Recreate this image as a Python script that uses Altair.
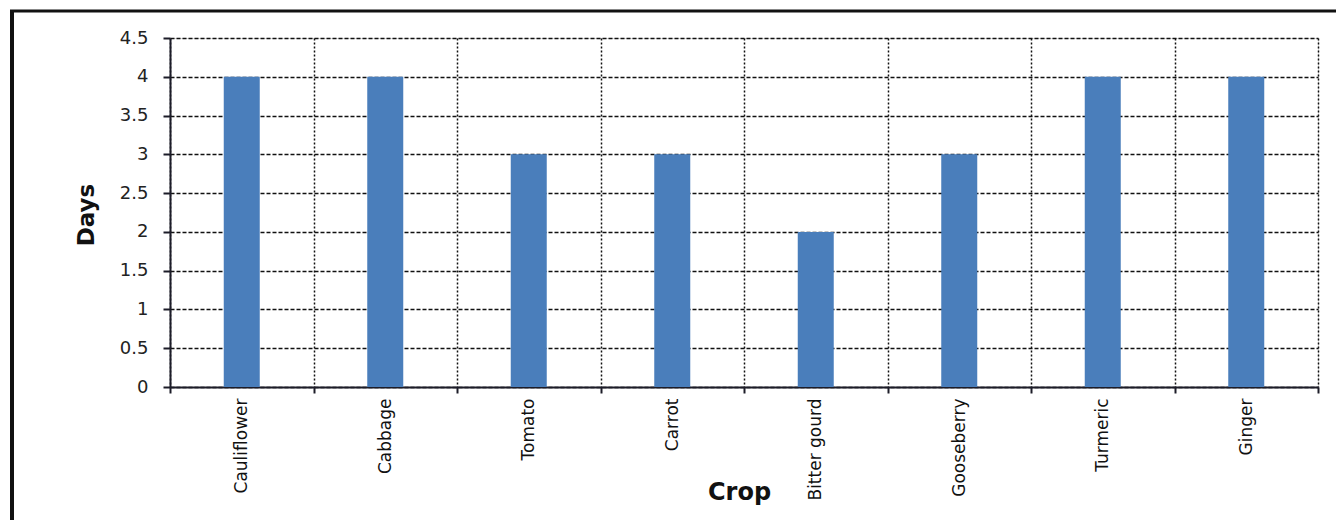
import altair as alt
import pandas as pd

crops = ["Cauliflower", "Cabbage", "Tomato", "Carrot", "Bitter gourd", "Gooseberry", "Turmeric", "Ginger"]
days = [4, 4, 3, 3, 2, 3, 4, 4]
y_ticks = [0, 0.5, 1, 1.5, 2, 2.5, 3, 3.5, 4, 4.5]

df = pd.DataFrame({"Crop": crops, "Days": days})

W, H = 1148, 349
LEFT, TOP = 170, 38
INK = "#1c1c28"

bars = alt.Chart(df).mark_bar(color="#4A7EBB", width=36).encode(
    x=alt.X("Crop:N", sort=crops, title="Crop",
            scale=alt.Scale(paddingInner=0, paddingOuter=0),
            axis=alt.Axis(labelAngle=-90, labelFontSize=17, labelFont="DejaVu Sans",
                          labelColor="#111", tickBand="extent", grid=True,
                          gridDash=[2, 2], gridColor="#111", gridWidth=1.5,
                          domainColor=INK, domainWidth=2, tickColor=INK, tickSize=6, tickWidth=2,
                          labelPadding=5,
                          titleFontSize=24, titleFont="DejaVu Sans", titleFontWeight="bold",
                          titleColor="#111", titleX=569, titleY=112, titleAlign="center",
                          titleBaseline="alphabetic")),
    y=alt.Y("Days:Q", title="Days", scale=alt.Scale(domain=[0, 4.5], nice=False),
            axis=alt.Axis(values=y_ticks, format="~g", labelFontSize=18, labelFont="DejaVu Sans",
                          labelColor="#222", labelPadding=15, grid=True,
                          gridDash=[4, 2], gridColor="#111", gridWidth=1.5,
                          domainColor=INK, domainWidth=2, tickColor=INK, tickSize=7, tickWidth=2,
                          titleFontSize=23, titleFont="DejaVu Sans", titleFontWeight="bold",
                          titleColor="#111", titleX=-84, titleY=H / 2 + 2,
                          titleBaseline="middle", titleAlign="center")),
)

frame_data = alt.Data(values=[{}])
left_line = alt.Chart(frame_data).mark_rule(color="#111", strokeWidth=4).encode(
    x=alt.value(12 - LEFT), y=alt.value(10 - TOP), y2=alt.value(520 - TOP))
top_line = alt.Chart(frame_data).mark_rule(color="#111", strokeWidth=3).encode(
    y=alt.value(11 - TOP), x=alt.value(10 - LEFT), x2=alt.value(1336 - LEFT))

chart = alt.layer(bars, left_line, top_line).properties(
    width=W, height=H,
    autosize=alt.AutoSizeParams(type="none"),
    padding={"left": LEFT, "top": TOP, "right": 1336 - LEFT - W, "bottom": 520 - TOP - H},
).configure_view(stroke=INK, strokeWidth=2).configure(background="white")

chart.save("out.html", embed_options={"renderer": "svg", "actions": False})
